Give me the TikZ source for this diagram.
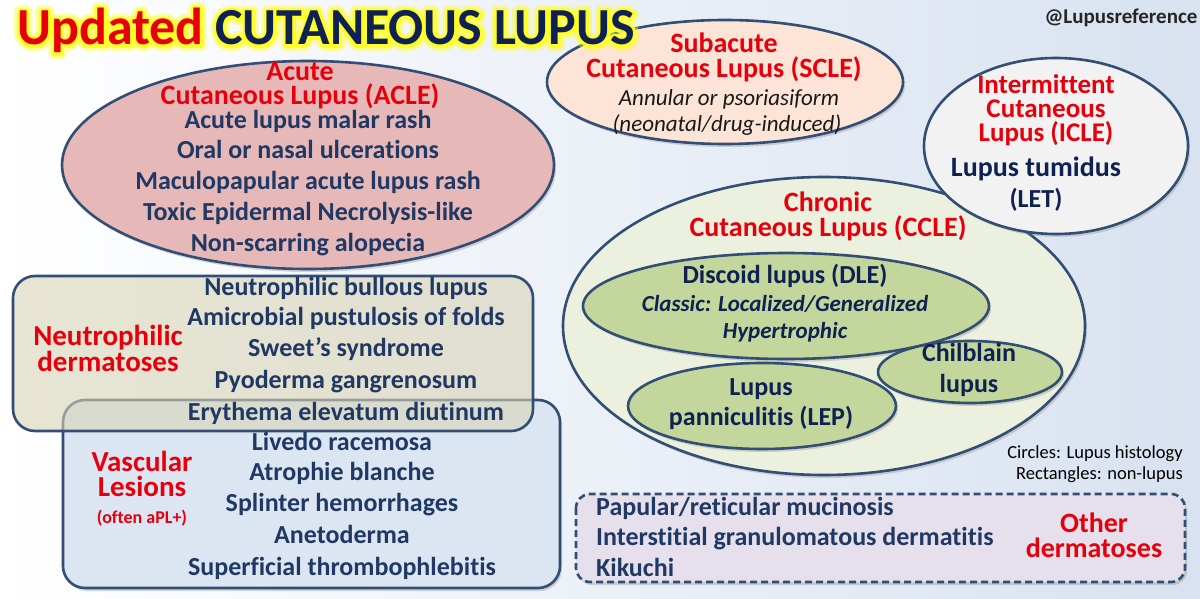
\documentclass[tikz,border=0pt]{standalone}
\usepackage{fontspec}
\setmainfont{Carlito}[Ligatures={NoCommon}]
\usetikzlibrary{shapes.geometric,shadows}
\definecolor{redtxt}{RGB}{230,0,12}
\definecolor{navytxt}{RGB}{31,56,100}
\definecolor{darknavy}{RGB}{14,33,82}
\definecolor{bordercol}{RGB}{50,78,116}
\definecolor{bgblue}{RGB}{216,226,240}
\definecolor{aclefill}{RGB}{230,185,184}
\definecolor{sclefill}{RGB}{252,229,214}
\definecolor{iclefill}{RGB}{242,242,243}
\definecolor{cclefill}{RGB}{235,241,222}
\definecolor{dlefill}{RGB}{195,214,155}
\definecolor{neufill}{RGB}{216,212,182}
\definecolor{vasfill}{RGB}{220,230,242}
\definecolor{othfill}{RGB}{230,224,236}
\definecolor{glowcol}{RGB}{255,255,30}
\tikzset{
  blob/.style={ellipse, draw=bordercol, line width=2.6pt, inner sep=0pt,
    drop shadow={shadow xshift=2pt, shadow yshift=-3pt, opacity=0.3}},
  box/.style={draw=bordercol, line width=2.6pt, rounded corners=22pt},
  ln/.style={inner sep=0pt, text height=0.63em, text depth=0pt, anchor=center},
  head/.style={ln, text=redtxt, font=\bfseries\fontsize{28}{30}\selectfont},
  item/.style={ln, text=navytxt, font=\bfseries\fontsize{26}{28}\selectfont},
  inner/.style={ln, text=darknavy, font=\bfseries\fontsize{26}{28}\selectfont},
}
\newcommand\titletxt{\bfseries\fontsize{52}{54}\selectfont\textcolor{redtxt}{Updated} \textcolor{darknavy}{CUTANEOUS LUPUS}}
\newcommand\glowtxt[1]{\special{pdf:literal direct 1 Tr #1 w 1 j}\bfseries\fontsize{52}{54}\selectfont Updated CUTANEOUS LUPUS\special{pdf:literal direct 0 Tr}}
\begin{document}
\begin{tikzpicture}[x=1pt,y=-1pt]
\useasboundingbox (0,0) rectangle (1200,599);
\shade[left color=white, right color=bgblue] (0,0) rectangle (1200,599);

\node (handle) [ln, text=black!85, font=\bfseries\fontsize{21}{23}\selectfont] at (1121,20) {@Lupusreference};

% ACLE
\node (acle) [blob, fill=aclefill, minimum width=492pt, minimum height=208pt] at (308,165) {};
\node (acleh1) [head] at (300,77) {Acute};
\node (acleh2) [head] at (300,101) {Cutaneous Lupus (ACLE)};
\node (acle1) [item] at (308,125) {Acute lupus malar rash};
\node (acle2) [item] at (308,155) {Oral or nasal ulcerations};
\node (acle3) [item] at (308,186) {Maculopapular acute lupus rash};
\node (acle4) [item] at (308,217) {Toxic Epidermal Necrolysis-like};
\node (acle5) [item] at (308,248) {Non-scarring alopecia};

% SCLE
\node (scle) [blob, fill=sclefill, minimum width=356pt, minimum height=124pt] at (725,82) {};
\node (scleh1) [head] at (724,49) {Subacute};
\node (scleh2) [head] at (724,74) {Cutaneous Lupus (SCLE)};
\node (scle1) [ln, text=black!90, font=\itshape\fontsize{23}{25}\selectfont] at (729,102) {Annular or psoriasiform};
\node (scle2) [ln, text=black!90, font=\itshape\fontsize{23}{25}\selectfont] at (727,128) {(neonatal/drug-induced)};

% CCLE
\node (ccle) [blob, fill=cclefill, minimum width=522pt, minimum height=298pt] at (824,326) {};
\node (ccleh1) [head] at (828,208) {Chronic};
\node (ccleh2) [head] at (828,233) {Cutaneous Lupus (CCLE)};

% ICLE
\node (icle) [blob, fill=iclefill, minimum width=264pt, minimum height=176pt] at (1056,146) {};
\node (icleh1) [head, font=\bfseries\fontsize{27}{29}\selectfont] at (1046,90) {Intermittent};
\node (icleh2) [head, font=\bfseries\fontsize{27}{29}\selectfont] at (1046,114) {Cutaneous};
\node (icleh3) [head, font=\bfseries\fontsize{27}{29}\selectfont] at (1046,138) {Lupus (ICLE)};
\node (icle1) [inner, font=\bfseries\fontsize{28}{30}\selectfont] at (1036,173) {Lupus tumidus};
\node (icle2) [inner] at (1036,204) {(LET)};

% DLE
\node (dle) [blob, fill=dlefill, minimum width=406pt, minimum height=106pt] at (786,306) {};
\node (dle1) [inner] at (785,280) {Discoid lupus (DLE)};
\node (dle2) [inner, font=\bfseries\itshape\fontsize{23}{25}\selectfont] at (785,308) {Classic: Localized/Generalized};
\node (dle3) [inner, font=\bfseries\itshape\fontsize{23}{25}\selectfont] at (785,335) {Hypertrophic};

% LEP
\node (lep) [blob, fill=dlefill, minimum width=268pt, minimum height=86pt] at (762,406) {};
\node (lep1) [inner] at (761,392) {Lupus};
\node (lep2) [inner] at (761,422) {panniculitis (LEP)};

% Chilblain
\node (chil) [blob, fill=dlefill, minimum width=184pt, minimum height=62pt] at (970,372) {};
\node (chil1) [inner] at (969,358) {Chilblain};
\node (chil2) [inner] at (969,389) {lupus};

% Vascular box
\draw[box, fill=vasfill, drop shadow={shadow xshift=2pt, shadow yshift=-3pt, opacity=0.3}] (63,400) rectangle (560,588);
% Neutrophilic box
\draw[box, fill=neufill, fill opacity=0.6] (13,276) rectangle (533,431);
\node (vasbox) [inner sep=0pt, minimum width=497pt, minimum height=188pt] at (311.5,494) {};
\node (neubox) [inner sep=0pt, minimum width=520pt, minimum height=155pt] at (273,353.5) {};

\node (neul1) [head, font=\bfseries\fontsize{29}{31}\selectfont] at (108,342) {Neutrophilic};
\node (neul2) [head, font=\bfseries\fontsize{29}{31}\selectfont] at (108,368) {dermatoses};
\node (neu1) [item] at (346,292) {Neutrophilic bullous lupus};
\node (neu2) [item] at (346,322) {Amicrobial pustulosis of folds};
\node (neu3) [item] at (346,353) {Sweet’s syndrome};
\node (neu4) [item] at (346,385) {Pyoderma gangrenosum};
\node (neu5) [item] at (346,417) {Erythema elevatum diutinum};

\node (vasl1) [head, font=\bfseries\fontsize{29}{31}\selectfont] at (142,468) {Vascular};
\node (vasl2) [head, font=\bfseries\fontsize{29}{31}\selectfont] at (142,493) {Lesions};
\node (vasl3) [head, font=\bfseries\fontsize{18}{20}\selectfont] at (142,520) {(often aPL+)};
\node (vas1) [item] at (342,447) {Livedo racemosa};
\node (vas2) [item] at (342,477) {Atrophie blanche};
\node (vas3) [item] at (342,508) {Splinter hemorrhages};
\node (vas4) [item] at (342,540) {Anetoderma};
\node (vas5) [item] at (342,572) {Superficial thrombophlebitis};

% note
\node (note1) [ln, anchor=east, text=black, font=\fontsize{18.5}{20}\selectfont] at (1183,455) {Circles: Lupus histology};
\node (note2) [ln, anchor=east, text=black, font=\fontsize{18.5}{20}\selectfont] at (1183,476) {Rectangles: non-lupus};

% Other dermatoses
\draw[box, dashed, dash pattern=on 7pt off 4pt, rounded corners=14pt, fill=othfill, drop shadow={shadow xshift=2pt, shadow yshift=-3pt, opacity=0.3}] (576,494) rectangle (1185,582);
\node (othbox) [inner sep=0pt, minimum width=609pt, minimum height=88pt] at (880.5,538) {};
\node (oth1) [item, anchor=west] at (596,512) {Papular/reticular mucinosis};
\node (oth2) [item, anchor=west] at (596,542) {Interstitial granulomatous dermatitis};
\node (oth3) [item, anchor=west] at (596,573) {Kikuchi};
\node (othl1) [head] at (1094,529) {Other};
\node (othl2) [head] at (1094,554) {dermatoses};

% title with glow, on top
\node (glowa) [inner sep=0pt, anchor=base west, text=glowcol, opacity=0.4] at (17,45) {\glowtxt{12}};
\node (glowb) [inner sep=0pt, anchor=base west, text=glowcol, opacity=0.9] at (17,45) {\glowtxt{6}};
\node (title) [inner sep=0pt, anchor=base west] at (17,45) {\titletxt};
\end{tikzpicture}
\end{document}
